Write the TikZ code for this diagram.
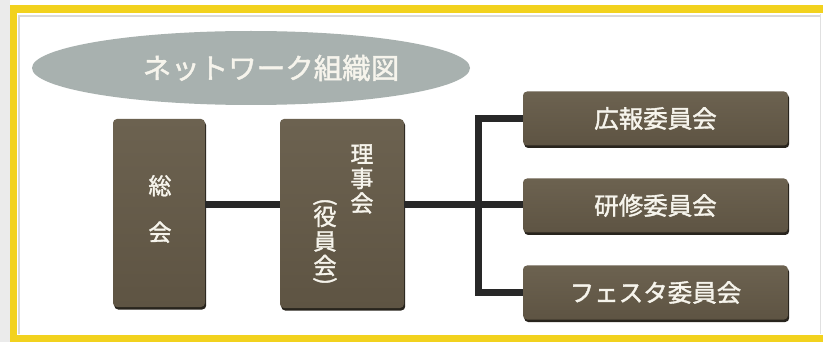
\documentclass[tikz,border=0pt]{standalone}
\usepackage{fontspec}
\newfontfamily\jp[FakeBold=1.6]{Noto Sans CJK JP}
\usetikzlibrary{shapes.geometric,shadows}
\definecolor{frameyellow}{RGB}{242,210,30}
\definecolor{boxbrown}{RGB}{94,84,67}
\definecolor{boxtop}{RGB}{108,98,80}
\definecolor{boxshadow}{RGB}{40,36,29}
\definecolor{ellgrey}{RGB}{168,177,175}
\definecolor{linedark}{RGB}{40,40,40}
\definecolor{txtwhite}{RGB}{246,244,236}
\begin{document}
\begin{tikzpicture}[x=1pt,y=-1pt,
  orgbox/.style={draw=none,top color=boxtop,bottom color=boxbrown,rounded corners=4pt,inner sep=0pt,
    drop shadow={shadow xshift=1.2pt,shadow yshift=-2.5pt,fill=boxshadow,opacity=1},
    text=txtwhite,font=\jp\fontsize{23}{26}\selectfont,align=center},
  wide/.style={orgbox,minimum width=265pt,minimum height=54pt,font=\jp\fontsize{24.5}{28}\selectfont},
  vtext/.style={text=txtwhite,inner sep=0pt,align=center,font=\jp\fontsize{23}{24.5}\selectfont},
  conn/.style={draw=linedark,line width=7pt}]
\useasboundingbox (0,0) rectangle (823,342);
\fill[white] (0,0) rectangle (823,342);
\fill[black!8] (0,0) rectangle (10,342);
% frame
\draw[black!15,line width=1.5pt] (18,16) -- (820,16);
\draw[black!15,line width=1.5pt] (19,16) -- (19,334);
\draw[black!12,line width=1pt] (820,14) -- (820,334);
\fill[frameyellow] (10,5) rectangle (823,13);
\fill[frameyellow] (10,5) rectangle (17,342);
\fill[frameyellow] (10,335) rectangle (823,342);
% title
\node[ellipse,fill=ellgrey,minimum width=438pt,minimum height=74pt,inner sep=0pt] (e) at (251,68) {};
\node[text=txtwhite,font=\jp\fontsize{28.5}{30}\selectfont,inner sep=0pt] (t) at (271,68) {ネットワーク組織図};
% boxes
\node[orgbox,minimum width=92pt,minimum height=188pt] (a) at (159,213) {};
\node[vtext] (a1) at (160,209) {総\\[22pt]会};
\node[orgbox,minimum width=124pt,minimum height=189pt] (b) at (342,213.5) {};
\node[vtext] (b1) at (362,179) {理\\事\\会};
\node[vtext] (b2) at (325,241) {役\\員\\会};
\node[vtext,rotate=-90] (p1) at (325,202) {(};
\node[vtext,rotate=-90] (p2) at (325,281) {)};
\node[wide] (c1) at (655.5,118.5) {広報委員会};
\node[wide] (c2) at (655.5,205.5) {研修委員会};
\node[wide] (c3) at (655.5,292.5) {フェスタ委員会};
% connectors
\coordinate (j) at (478,204.5);
\draw[conn] (a.east |- j) -- (b.west |- j);
\draw[conn] (b.east |- j) -- (c2.west |- j);
\draw[conn] (c1.west) -| (j) |- (c3.west);
\end{tikzpicture}
\end{document}
